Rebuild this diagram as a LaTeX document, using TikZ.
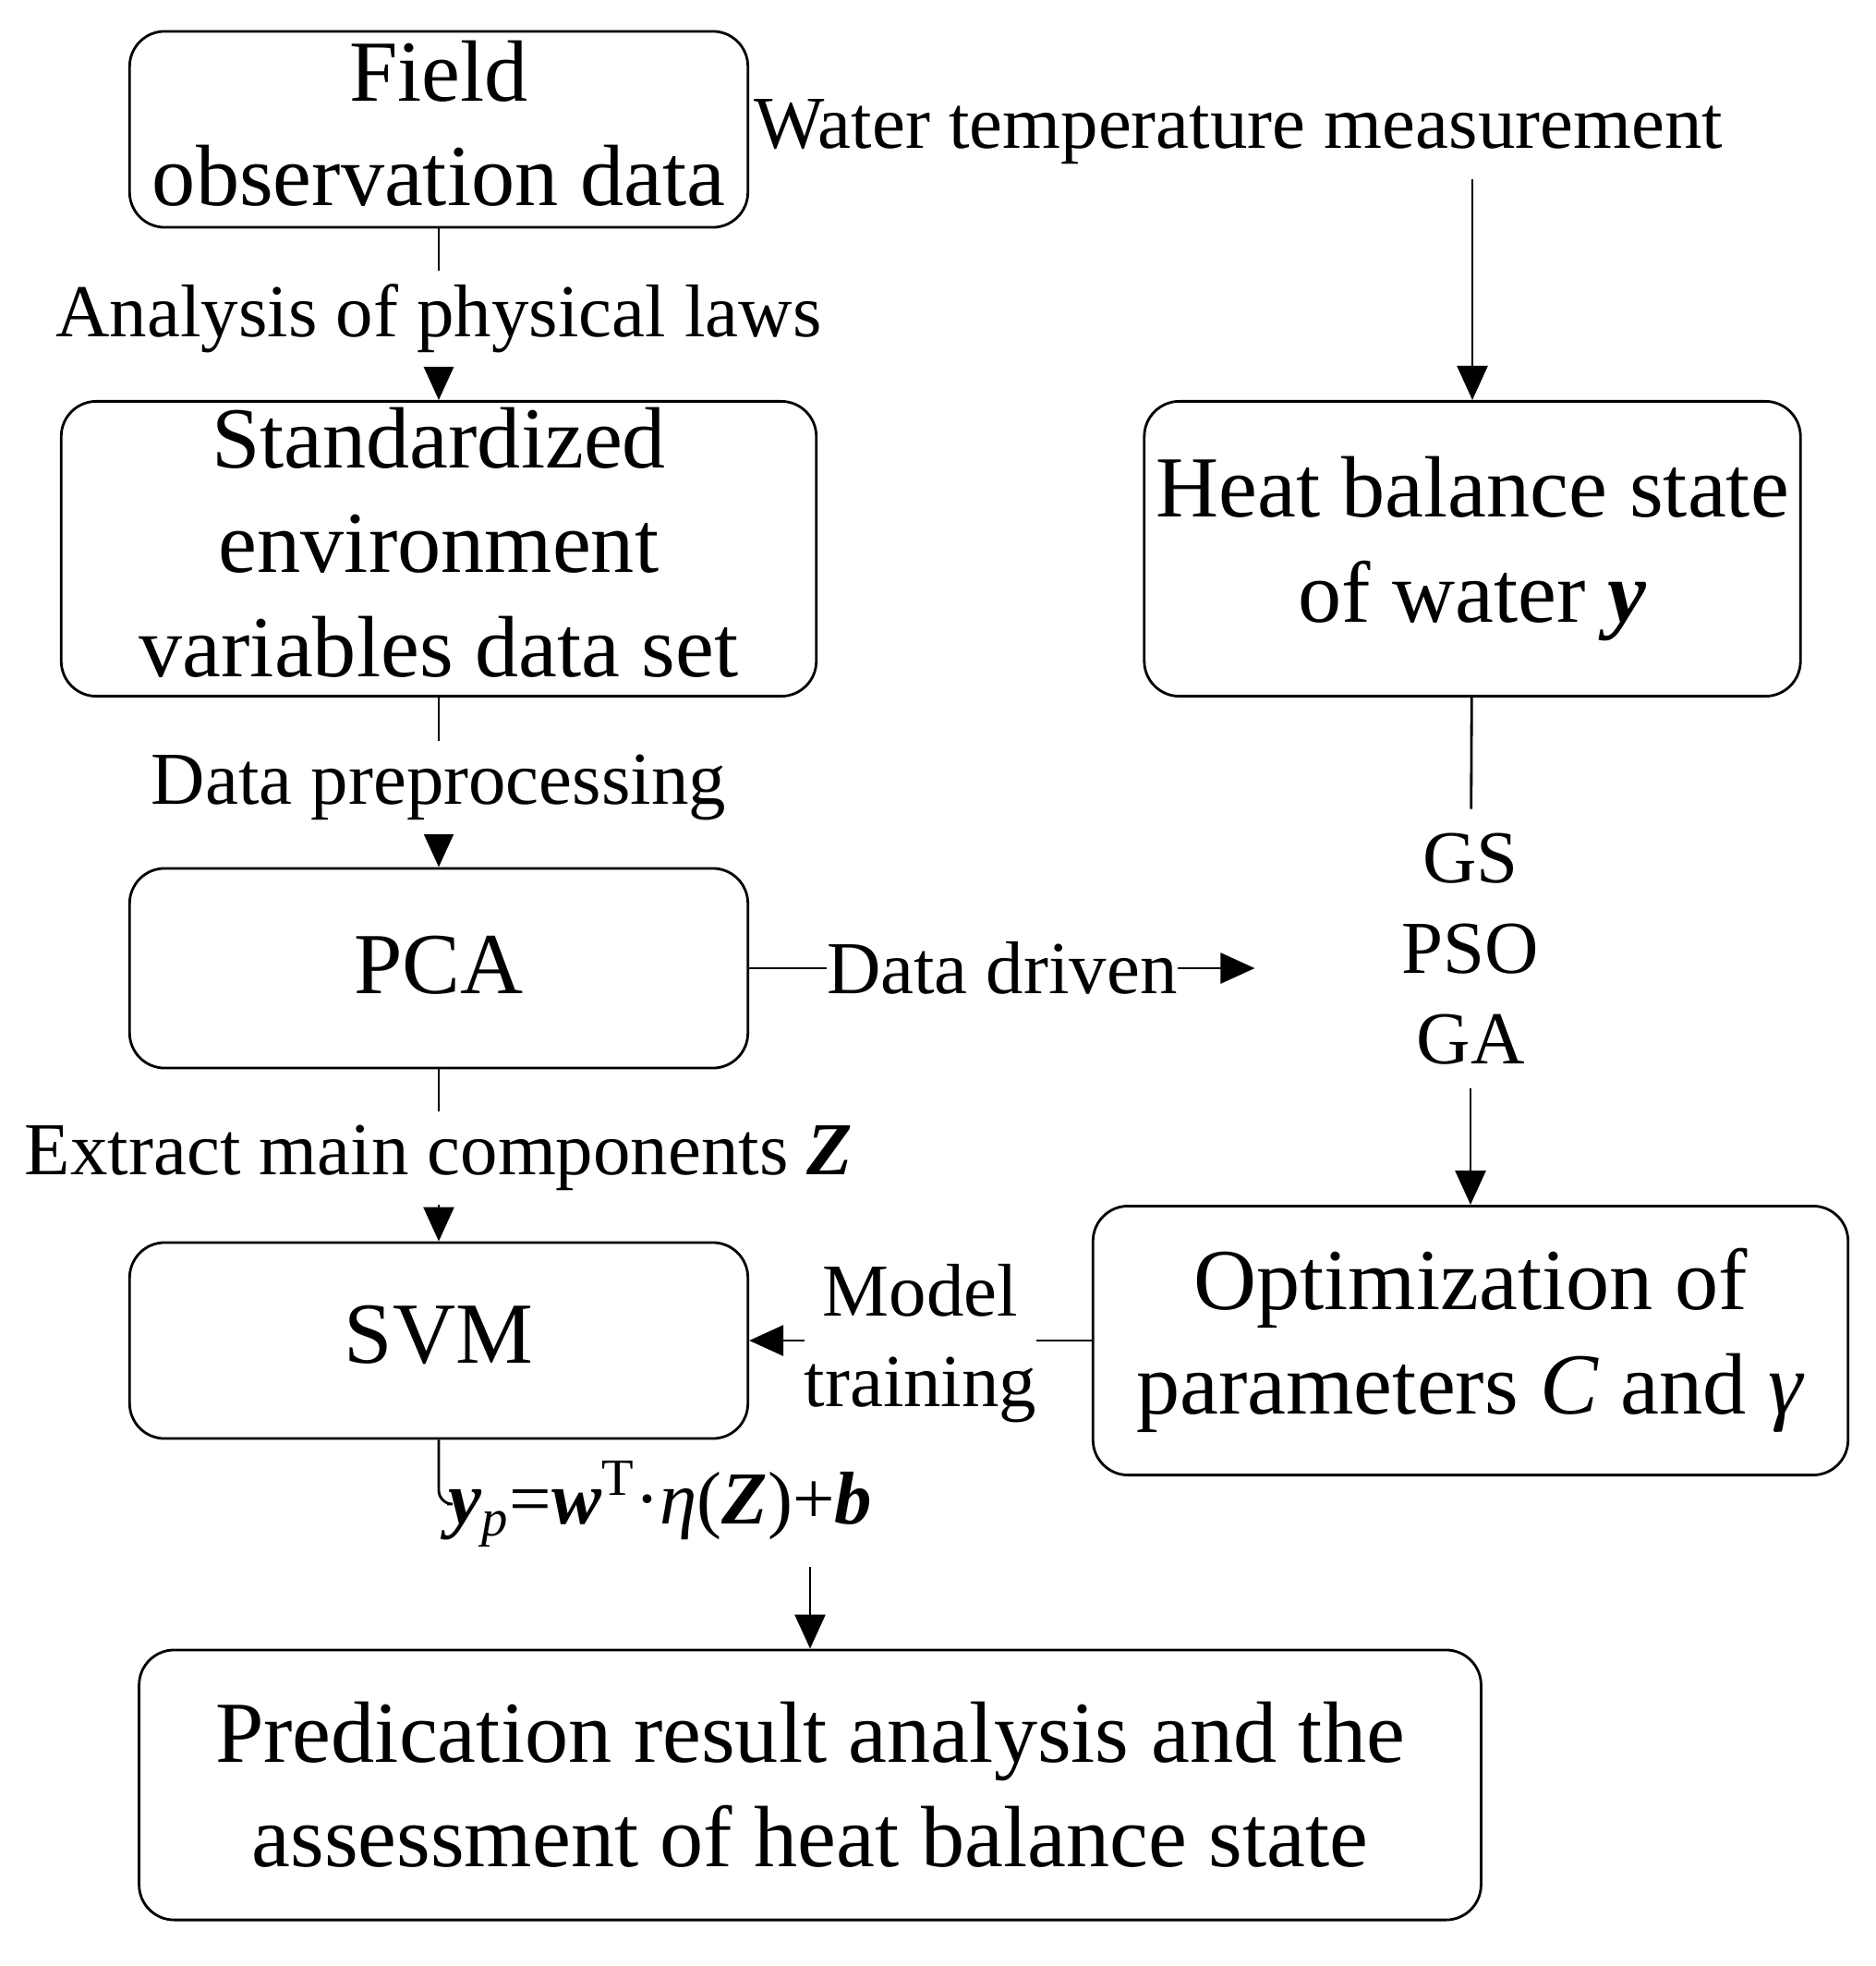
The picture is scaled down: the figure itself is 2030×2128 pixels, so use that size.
\documentclass[tikz,border=0pt]{standalone}
\usepackage{fontspec}
\setmainfont{Liberation Serif}
\usetikzlibrary{arrows.meta,calc,positioning}
\newcommand{\boldit}[1]{\textbf{\textit{#1}}}

\begin{document}
\begin{tikzpicture}[x=0.01cm,y=-0.01cm,line width=0.8pt,
    >={Triangle[length=0.37cm,width=0.33cm]},
    box/.style={draw,rounded corners=0.38cm,align=center,inner sep=0pt,
        font=\fontsize{26.8}{32.2}\selectfont},
    lbl/.style={fill=white,align=center,inner xsep=0pt,inner ysep=0.15cm,
        font=\fontsize{23}{27.8}\selectfont}]
    % 画布范围
    \useasboundingbox (0,0) rectangle (2030,2128);

    % 左列方框
    \node[box,minimum width=6.69cm,minimum height=2.12cm,text depth=4pt] (field) at (475,140) {Field\\observation data};
    \node[box,minimum width=8.17cm,minimum height=3.19cm,text depth=4pt] (std) at (475,594) {Standardized\\environment\\variables data set};
    \node[box,minimum width=6.69cm,minimum height=2.16cm,text depth=2pt] (pca) at (475,1048) {PCA};
    \node[box,minimum width=6.69cm,minimum height=2.12cm,text depth=4pt] (svm) at (475,1451) {SVM};

    % 右列方框
    \node[box,minimum width=7.10cm,minimum height=3.19cm] (heat) at (1594,594) {Heat balance state\\of water \boldit{y}};
    \node[box,minimum width=8.17cm,minimum height=2.91cm] (opt) at (1592,1451) {Optimization of\\parameters \textit{C} and \textit{γ}};

    % 底部方框
    \node[box,minimum width=14.52cm,minimum height=2.92cm] (pred) at (877,1932) {Predication result analysis and the\\assessment of heat balance state};

    % 左列流程箭头
    \draw[->] (field) -- node[lbl,yshift=-0.05cm] {Analysis of physical laws} (std);
    \draw[->] (std) -- node[lbl,yshift=-0.06cm] {Data preprocessing} (pca);
    \draw[->] (pca) -- node[lbl,yshift=-0.03cm] {Extract main components \boldit{Z}} (svm);

    % 水温测量
    \node[lbl,inner xsep=1pt,inner ysep=4pt,right=0pt of field,yshift=-0.03cm] (wtm) {Water temperature measurement};
    \draw[->] (wtm.south -| heat.north) -- (heat.north);

    % 优化算法
    \node[lbl,inner ysep=0.25cm] (algo) at (1592,1027) {GS\\PSO\\GA};
    \draw (heat) -- (algo);
    \draw[->] (algo) -- (opt);

    % 数据驱动
    \coordinate[right=5.47cm of pca.east] (ddend);
    \draw[->] (pca.east) -- node[lbl,inner ysep=0pt] {Data driven} (ddend);

    % 模型训练
    \draw[->] (opt) -- node[lbl,yshift=-0.03cm] {Model\\training} (svm);

    % 预测公式
    \node[lbl,inner sep=0pt,anchor=west] (eq) at (484,1628)
        {\boldit{y}\textsubscript{\textit{p}}=\boldit{w}\textsuperscript{T}·\textit{η}(\boldit{Z})+\boldit{b}};
    \draw[rounded corners=0.15cm] (svm.south) |- (eq.west);
    \draw[->] ([yshift=-0.2cm]eq.south -| pred.north) -- (pred.north);
\end{tikzpicture}
\end{document}
